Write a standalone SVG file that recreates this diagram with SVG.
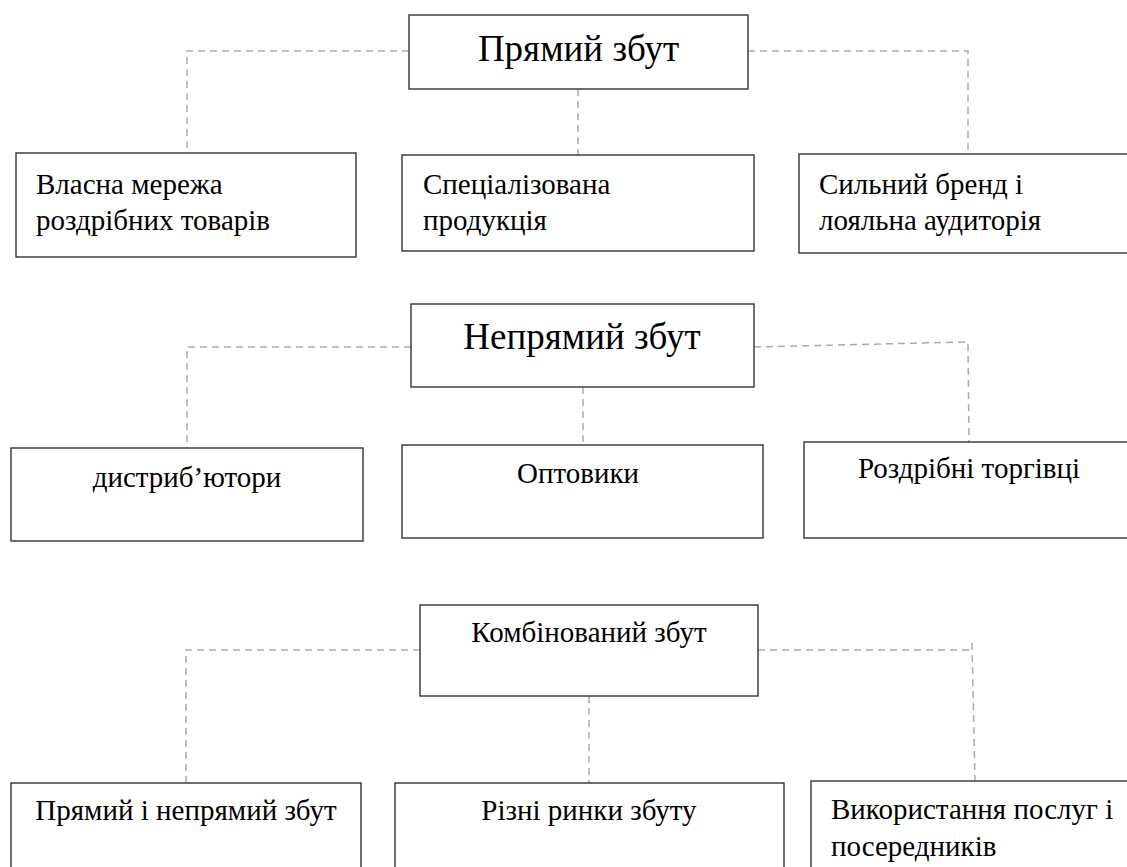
<svg xmlns="http://www.w3.org/2000/svg" width="1127" height="867" viewBox="0 0 1127 867">
<style>
.box{fill:#fff;stroke:#333;stroke-width:1.4}
.t{font-family:"Liberation Serif","Times New Roman",serif;fill:#000;font-size:29px}
.big{font-size:37px}
.m{text-anchor:middle}
.con{fill:none;stroke:#aaa;stroke-width:1.5;stroke-dasharray:7 5}
</style>
<rect width="1127" height="867" fill="#fff"/>
<g id="connectors">
<path class="con" d="M409,51 H187 V153"/>
<path class="con" d="M578,89 V155"/>
<path class="con" d="M748,51 H968 V155"/>
<path class="con" d="M411,347 H187 V448"/>
<path class="con" d="M583,387 V445"/>
<path class="con" d="M754,347 L965,342"/>
<path class="con" d="M968,344 L969,442"/>
<path class="con" d="M420,650 H186 V783"/>
<path class="con" d="M589,696 V783"/>
<path class="con" d="M758,650 H972"/>
<path class="con" d="M972,643 L975,781"/>
</g>
<g id="direct">
<rect class="box" x="409" y="15" width="339" height="74"/>
<text class="t big m" x="578.5" y="61">Прямий збут</text>
</g>
<g id="own-network">
<rect class="box" x="16" y="153" width="340" height="104"/>
<text class="t" x="36" y="194">Власна мережа</text>
<text class="t" x="36" y="230">роздрібних товарів</text>
</g>
<g id="specialized">
<rect class="box" x="402" y="155" width="352" height="96"/>
<text class="t" x="423" y="194">Спеціалізована</text>
<text class="t" x="423" y="230">продукція</text>
</g>
<g id="brand">
<rect class="box" x="799" y="154" width="340" height="99"/>
<text class="t" x="819" y="194">Сильний бренд і</text>
<text class="t" x="819" y="230">лояльна аудиторія</text>
</g>
<g id="indirect">
<rect class="box" x="411" y="304" width="343" height="83"/>
<text class="t big m" x="582" y="349">Непрямий збут</text>
</g>
<g id="distributors">
<rect class="box" x="11" y="448" width="352" height="93"/>
<text class="t m" x="187" y="487">дистриб’ютори</text>
</g>
<g id="wholesalers">
<rect class="box" x="402" y="445" width="361" height="93"/>
<text class="t m" x="578" y="483">Оптовики</text>
</g>
<g id="retailers">
<rect class="box" x="804" y="442" width="335" height="96"/>
<text class="t m" x="969" y="478">Роздрібні торгівці</text>
</g>
<g id="combined">
<rect class="box" x="420" y="605" width="338" height="91"/>
<text class="t m" x="589" y="642">Комбінований збут</text>
</g>
<g id="direct-indirect">
<rect class="box" x="11" y="783" width="350" height="120"/>
<text class="t m" x="186" y="820">Прямий і непрямий збут</text>
</g>
<g id="markets">
<rect class="box" x="395" y="783" width="389" height="120"/>
<text class="t m" x="589" y="820">Різні ринки збуту</text>
</g>
<g id="services">
<rect class="box" x="811" y="781" width="330" height="120"/>
<text class="t" x="831" y="819">Використання послуг і</text>
<text class="t" x="831" y="856">посередників</text>
</g>
</svg>
